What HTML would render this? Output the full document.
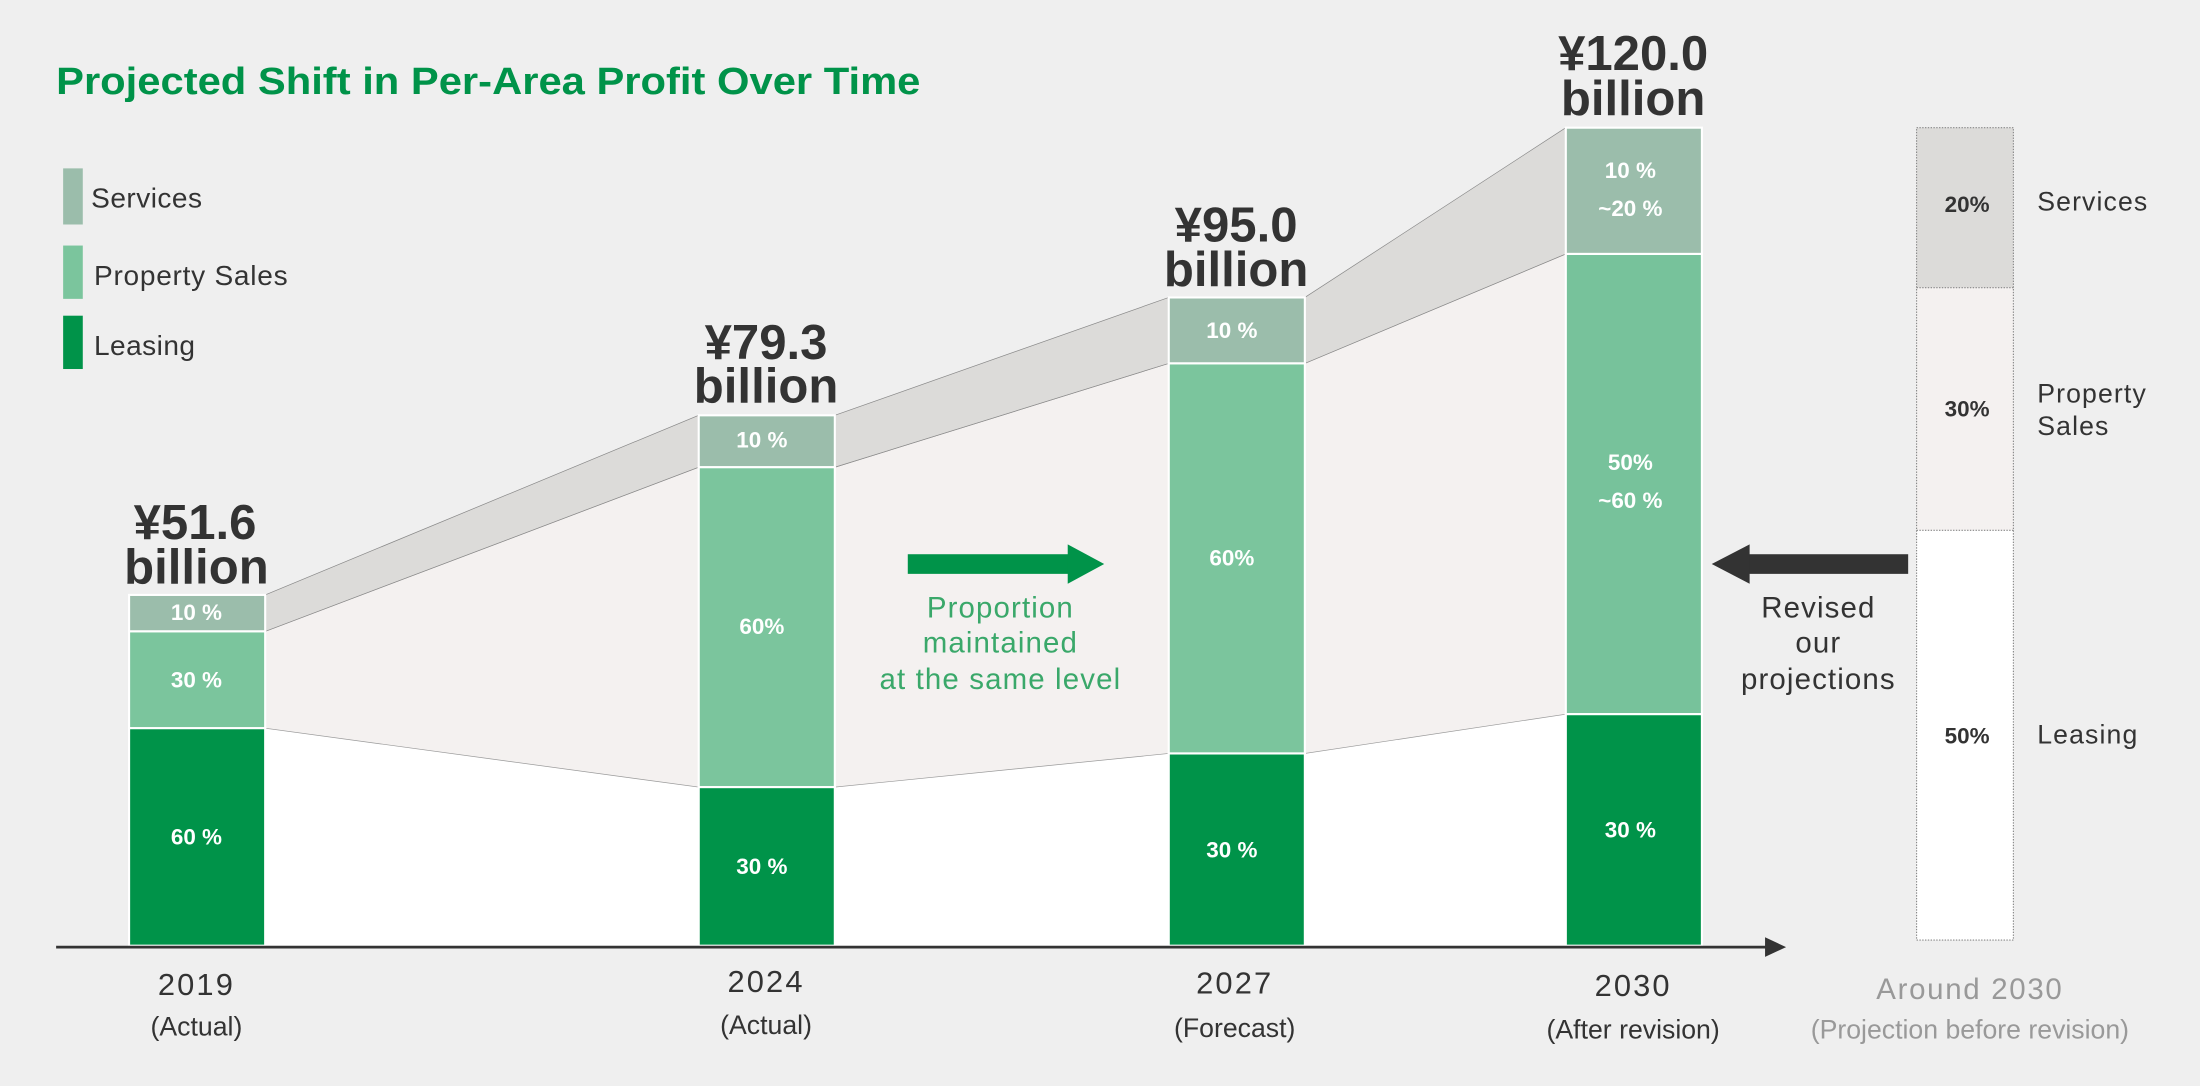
<!DOCTYPE html>
<html><head><meta charset="utf-8"><style>
html,body{margin:0;padding:0;background:#efefef;}
svg{display:block;}
text{font-family:"Liberation Sans",sans-serif;}
</style></head><body>
<svg width="2200" height="1086" viewBox="0 0 1568 774" preserveAspectRatio="none" xmlns="http://www.w3.org/2000/svg">
<rect width="1568" height="774" fill="#efefef"/>
<polygon points="189,519 498,561 595,561 833,537 930,537 1116,509 1116,674 189,674" fill="#ffffff"/>
<polygon points="189,450 498,333 498,561 189,519" fill="#f4f1f0" stroke="#999" stroke-width="0.5"/>
<polygon points="595,333 833,259 833,537 595,561" fill="#f4f1f0" stroke="#999" stroke-width="0.5"/>
<polygon points="930,259 1116,181 1116,509 930,537" fill="#f4f1f0" stroke="#999" stroke-width="0.5"/>
<polygon points="189,424 498,296 498,333 189,450" fill="#dcdbd9" stroke="#888" stroke-width="0.5"/>
<polygon points="595,296 833,212 833,259 595,333" fill="#dcdbd9" stroke="#888" stroke-width="0.5"/>
<polygon points="930,212 1116,91 1116,181 930,259" fill="#dcdbd9" stroke="#888" stroke-width="0.5"/>
<g stroke="#fff" stroke-width="1.5">
<rect x="92" y="424" width="97" height="26" fill="#9bbdab"/>
<rect x="92" y="450" width="97" height="69" fill="#7bc59d"/>
<rect x="92" y="519" width="97" height="155" fill="#009349"/>
<rect x="498" y="296" width="97" height="37" fill="#9bbdab"/>
<rect x="498" y="333" width="97" height="228" fill="#7bc59d"/>
<rect x="498" y="561" width="97" height="113" fill="#009349"/>
<rect x="833" y="212" width="97" height="47" fill="#9bbdab"/>
<rect x="833" y="259" width="97" height="278" fill="#7bc59d"/>
<rect x="833" y="537" width="97" height="137" fill="#009349"/>
<rect x="1116" y="91" width="97" height="90" fill="#9bbdab"/>
<rect x="1116" y="181" width="97" height="328" fill="#77c29b"/>
<rect x="1116" y="509" width="97" height="165" fill="#009349"/>
</g>
<rect x="1366" y="91" width="69" height="114" fill="#dcdbd9"/>
<rect x="1366" y="205" width="69" height="173" fill="#f4f1f0"/>
<rect x="1366" y="378" width="69" height="292" fill="#ffffff"/>
<g stroke="#888" stroke-width="0.8" stroke-dasharray="1,1" fill="none">
<rect x="1366" y="91" width="69" height="579"/>
<line x1="1366" y1="205" x2="1435" y2="205"/>
<line x1="1366" y1="378" x2="1435" y2="378"/>
</g>
<line x1="40" y1="675" x2="1262" y2="675" stroke="#333" stroke-width="2"/>
<polygon points="1258,668 1273,675 1258,682" fill="#333"/>
<text x="40" y="67" font-size="27" font-weight="bold" fill="#009349" textLength="616" lengthAdjust="spacingAndGlyphs">Projected Shift in Per-Area Profit Over Time</text>
<rect x="45" y="120" width="14" height="40" fill="#9bbdab"/>
<rect x="45" y="175" width="14" height="38" fill="#7bc59d"/>
<rect x="45" y="225" width="14" height="38" fill="#009349"/>
<g font-size="20" fill="#333">
<text x="65" y="148" textLength="79">Services</text>
<text x="67" y="203" textLength="138">Property Sales</text>
<text x="67" y="253" textLength="72">Leasing</text>
</g>
<g font-size="35" font-weight="bold" fill="#333" text-anchor="middle">
<text x="139" y="384">¥51.6</text><text x="140" y="416">billion</text>
<text x="546" y="256">¥79.3</text><text x="546" y="287">billion</text>
<text x="881" y="172">¥95.0</text><text x="881" y="204">billion</text>
<text x="1164" y="50">¥120.0</text><text x="1164" y="82">billion</text>
</g>
<g font-size="16" font-weight="bold" fill="#fff" text-anchor="middle">
<text x="140" y="442">10 %</text>
<text x="140" y="490">30 %</text>
<text x="140" y="602">60 %</text>
<text x="543" y="319">10 %</text>
<text x="543" y="452">60%</text>
<text x="543" y="623">30 %</text>
<text x="878" y="241">10 %</text>
<text x="878" y="403">60%</text>
<text x="878" y="611">30 %</text>
<text x="1162" y="127">10 %</text>
<text x="1162" y="154">~20 %</text>
<text x="1162" y="335">50%</text>
<text x="1162" y="362">~60 %</text>
<text x="1162" y="597">30 %</text>
</g>
<g font-size="16" font-weight="bold" fill="#333" text-anchor="middle">
<text x="1402" y="151">20%</text>
<text x="1402" y="297">30%</text>
<text x="1402" y="530">50%</text>
</g>
<g font-size="19" fill="#333" letter-spacing="0.8">
<text x="1452" y="150">Services</text>
<text x="1452" y="287">Property</text>
<text x="1452" y="310">Sales</text>
<text x="1452" y="530">Leasing</text>
</g>
<rect x="647" y="395" width="116" height="14" fill="#009349"/>
<polygon points="761,388 787,402 761,416" fill="#009349"/>
<g font-size="21" fill="#3aa86a" text-anchor="middle" letter-spacing="0.8">
<text x="713" y="440">Proportion</text>
<text x="713" y="465">maintained</text>
<text x="713" y="491">at the same level</text>
</g>
<rect x="1245" y="395" width="115" height="14" fill="#333"/>
<polygon points="1247,388 1220,402 1247,416" fill="#333"/>
<g font-size="21" fill="#333" text-anchor="middle" letter-spacing="0.8">
<text x="1296" y="440">Revised</text>
<text x="1296" y="465">our</text>
<text x="1296" y="491">projections</text>
</g>
<g font-size="22" fill="#333" text-anchor="middle" letter-spacing="1.5">
<text x="140" y="709">2019</text>
<text x="546" y="707">2024</text>
<text x="880" y="708">2027</text>
<text x="1164" y="710">2030</text>
</g>
<g font-size="19" fill="#333" text-anchor="middle">
<text x="140" y="738">(Actual)</text>
<text x="546" y="737">(Actual)</text>
<text x="880" y="739">(Forecast)</text>
<text x="1164" y="740">(After revision)</text>
</g>
<text x="1404" y="712" font-size="21" fill="#999" text-anchor="middle" letter-spacing="1.2">Around 2030</text>
<text x="1404" y="740" font-size="19" fill="#999" text-anchor="middle">(Projection before revision)</text>
</svg>
</body></html>
